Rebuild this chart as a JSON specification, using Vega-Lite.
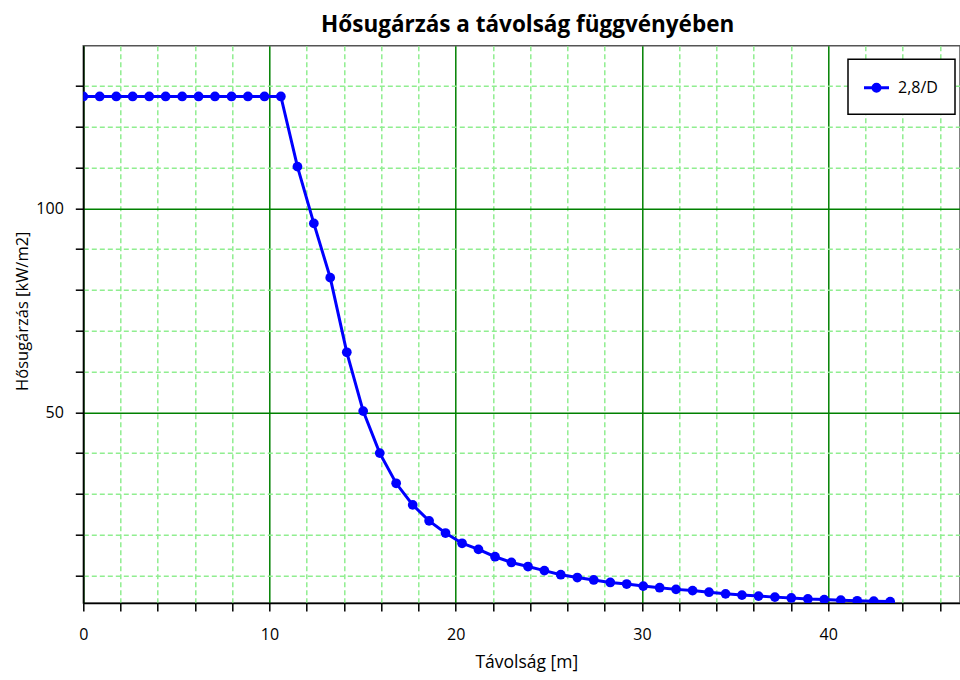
{
  "$schema": "https://vega.github.io/schema/vega-lite/v6.json",
  "autosize": {"type": "none"},
  "padding": {"left": 83.3, "top": 45.7, "right": 0, "bottom": 77},
  "width": 876.7,
  "height": 557.3,
  "background": "white",
  "title": {"text": "Hősugárzás a távolság függvényében", "font": "Open Sans", "fontSize": 22.5, "fontWeight": "bold", "color": "black", "anchor": "middle", "offset": 9, "dx": 6},
  "data": {"values": [
    {"tavolsag": 0.00, "ertek": 127.4, "sorozat": "2,8/D"},
    {"tavolsag": 0.88, "ertek": 127.4, "sorozat": "2,8/D"},
    {"tavolsag": 1.77, "ertek": 127.4, "sorozat": "2,8/D"},
    {"tavolsag": 2.65, "ertek": 127.4, "sorozat": "2,8/D"},
    {"tavolsag": 3.54, "ertek": 127.4, "sorozat": "2,8/D"},
    {"tavolsag": 4.42, "ertek": 127.4, "sorozat": "2,8/D"},
    {"tavolsag": 5.31, "ertek": 127.4, "sorozat": "2,8/D"},
    {"tavolsag": 6.19, "ertek": 127.4, "sorozat": "2,8/D"},
    {"tavolsag": 7.07, "ertek": 127.4, "sorozat": "2,8/D"},
    {"tavolsag": 7.96, "ertek": 127.4, "sorozat": "2,8/D"},
    {"tavolsag": 8.84, "ertek": 127.4, "sorozat": "2,8/D"},
    {"tavolsag": 9.73, "ertek": 127.4, "sorozat": "2,8/D"},
    {"tavolsag": 10.61, "ertek": 127.4, "sorozat": "2,8/D"},
    {"tavolsag": 11.50, "ertek": 110.2, "sorozat": "2,8/D"},
    {"tavolsag": 12.38, "ertek": 96.3, "sorozat": "2,8/D"},
    {"tavolsag": 13.26, "ertek": 83.0, "sorozat": "2,8/D"},
    {"tavolsag": 14.15, "ertek": 64.7, "sorozat": "2,8/D"},
    {"tavolsag": 15.03, "ertek": 50.3, "sorozat": "2,8/D"},
    {"tavolsag": 15.92, "ertek": 40.0, "sorozat": "2,8/D"},
    {"tavolsag": 16.80, "ertek": 32.6, "sorozat": "2,8/D"},
    {"tavolsag": 17.69, "ertek": 27.3, "sorozat": "2,8/D"},
    {"tavolsag": 18.57, "ertek": 23.4, "sorozat": "2,8/D"},
    {"tavolsag": 19.45, "ertek": 20.4, "sorozat": "2,8/D"},
    {"tavolsag": 20.34, "ertek": 17.9, "sorozat": "2,8/D"},
    {"tavolsag": 21.22, "ertek": 16.4, "sorozat": "2,8/D"},
    {"tavolsag": 22.11, "ertek": 14.6, "sorozat": "2,8/D"},
    {"tavolsag": 22.99, "ertek": 13.2, "sorozat": "2,8/D"},
    {"tavolsag": 23.88, "ertek": 12.2, "sorozat": "2,8/D"},
    {"tavolsag": 24.76, "ertek": 11.2, "sorozat": "2,8/D"},
    {"tavolsag": 25.64, "ertek": 10.2, "sorozat": "2,8/D"},
    {"tavolsag": 26.53, "ertek": 9.5, "sorozat": "2,8/D"},
    {"tavolsag": 27.41, "ertek": 8.9, "sorozat": "2,8/D"},
    {"tavolsag": 28.30, "ertek": 8.3, "sorozat": "2,8/D"},
    {"tavolsag": 29.18, "ertek": 7.9, "sorozat": "2,8/D"},
    {"tavolsag": 30.07, "ertek": 7.4, "sorozat": "2,8/D"},
    {"tavolsag": 30.95, "ertek": 7.0, "sorozat": "2,8/D"},
    {"tavolsag": 31.83, "ertek": 6.6, "sorozat": "2,8/D"},
    {"tavolsag": 32.72, "ertek": 6.3, "sorozat": "2,8/D"},
    {"tavolsag": 33.60, "ertek": 5.9, "sorozat": "2,8/D"},
    {"tavolsag": 34.49, "ertek": 5.5, "sorozat": "2,8/D"},
    {"tavolsag": 35.37, "ertek": 5.2, "sorozat": "2,8/D"},
    {"tavolsag": 36.26, "ertek": 4.95, "sorozat": "2,8/D"},
    {"tavolsag": 37.14, "ertek": 4.7, "sorozat": "2,8/D"},
    {"tavolsag": 38.02, "ertek": 4.5, "sorozat": "2,8/D"},
    {"tavolsag": 38.91, "ertek": 4.25, "sorozat": "2,8/D"},
    {"tavolsag": 39.79, "ertek": 4.1, "sorozat": "2,8/D"},
    {"tavolsag": 40.68, "ertek": 3.95, "sorozat": "2,8/D"},
    {"tavolsag": 41.56, "ertek": 3.8, "sorozat": "2,8/D"},
    {"tavolsag": 42.45, "ertek": 3.7, "sorozat": "2,8/D"},
    {"tavolsag": 43.33, "ertek": 3.6, "sorozat": "2,8/D"}
  ]},
  "encoding": {
    "x": {
      "field": "tavolsag", "type": "quantitative",
      "scale": {"domain": [0, 47.08], "nice": false, "zero": false},
      "axis": {
        "title": "Távolság [m]",
        "titleFontSize": 17.5,
        "values": [0,2,4,6,8,10,12,14,16,18,20,22,24,26,28,30,32,34,36,38,40,42,44,46],
        "labelExpr": "datum.value % 10 === 0 ? datum.label : ''",
        "labelOverlap": false,
        "labelFlush": false,
        "labelPadding": 15,
        "gridColor": {"condition": {"test": "datum.value % 10 === 0", "value": "#008000"}, "value": "#90EE90"},
        "gridDash": {"condition": {"test": "datum.value % 10 === 0", "value": []}, "value": [5, 3]},
        "gridWidth": 1.5,
        "titleX": 443,
        "titleY": 59,
        "titleAlign": "center",
        "titleBaseline": "middle"
      }
    },
    "y": {
      "field": "ertek", "type": "quantitative",
      "scale": {"domain": [3.26, 139.85], "nice": false, "zero": false},
      "axis": {
        "title": "Hősugárzás [kW/m2]",
        "titleFontSize": 16.5,
        "values": [10,20,30,40,50,60,70,80,90,100,110,120,130],
        "labelExpr": "datum.value % 50 === 0 ? datum.label : ''",
        "labelOverlap": false,
        "labelPadding": 12,
        "gridColor": {"condition": {"test": "datum.value % 50 === 0", "value": "#008000"}, "value": "#90EE90"},
        "gridDash": {"condition": {"test": "datum.value % 50 === 0", "value": []}, "value": [5, 3]},
        "gridWidth": 1.5,
        "titleAngle": 270,
        "titleX": -61,
        "titleY": 265,
        "titleAlign": "center",
        "titleBaseline": "middle"
      }
    },
    "color": {
      "field": "sorozat", "type": "nominal",
      "scale": {"range": ["#0000FF"]},
      "legend": {
        "title": null,
        "orient": "none",
        "legendX": 764.7,
        "legendY": 13.6,
        "padding": 17,
        "strokeColor": "black",
        "fillColor": "white",
        "symbolType": "M-1.25,0H1.25M0.35,0A0.35,0.35,0,1,1,-0.35,0A0.35,0.35,0,1,1,0.35,0",
        "symbolSize": 400,
        "symbolStrokeWidth": 3,
        "symbolFillColor": "#0000FF",
        "symbolStrokeColor": "#0000FF",
        "labelFont": "Open Sans",
        "labelFontSize": 16,
        "labelColor": "black",
        "labelOffset": 10,
        "encode": {
          "legend": {"update": {"strokeWidth": {"value": 1.5}}},
          "symbols": {"update": {"fill": {"value": "#0000FF"}, "stroke": {"value": "#0000FF"}, "strokeWidth": {"value": 3}, "opacity": {"value": 1}}}
        }
      }
    }
  },
  "layer": [
    {"mark": {"type": "line", "strokeWidth": 3, "clip": true}},
    {"mark": {"type": "point", "filled": true, "size": 95, "opacity": 1, "clip": true}}
  ],
  "config": {
    "view": {"stroke": "#555555", "strokeWidth": 1.5},
    "axis": {
      "domainColor": "black",
      "domainWidth": 1.5,
      "tickColor": "black",
      "tickWidth": 1.5,
      "tickSize": 8,
      "labelFont": "Open Sans",
      "labelFontSize": 16,
      "labelColor": "black",
      "titleFont": "Open Sans",
      "titleFontWeight": "normal",
      "titleColor": "black",
      "gridOpacity": 1
    }
  }
}
